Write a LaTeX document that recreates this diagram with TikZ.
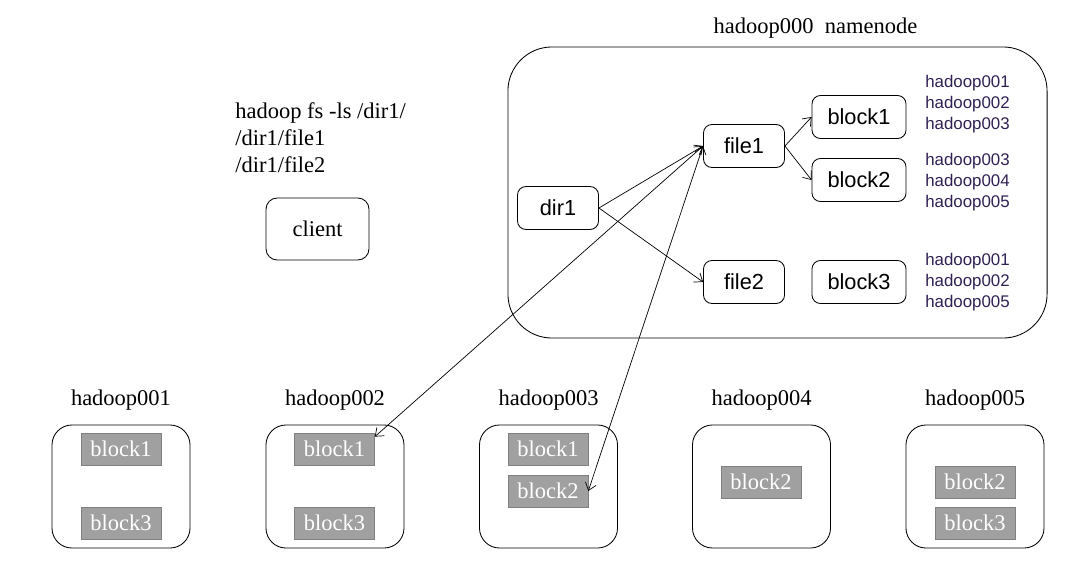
\documentclass[tikz,border=0pt]{standalone}
\usepackage{fontspec}
\setmainfont{Liberation Serif}
\setsansfont{Liberation Sans}
\usetikzlibrary{positioning, arrows.meta}
\definecolor{listpurple}{RGB}{48,32,84}
\definecolor{blkfill}{RGB}{160,160,160}
\definecolor{blkline}{RGB}{128,128,128}

\begin{document}
\begin{tikzpicture}[x=0.025cm, y=-0.025cm,
    meta/.style={draw, rectangle, rounded corners=6pt, font=\sffamily\fontsize{15.5}{18}\selectfont, minimum width=2.025cm, minimum height=1.075cm, line width=0.6pt},
    metablk/.style={meta, minimum width=2.35cm},
    host/.style={draw, rectangle, rounded corners=0.5cm, minimum width=3.45cm, minimum height=3.075cm, line width=0.6pt},
    blk/.style={draw=blkline, fill=blkfill, text=white, rectangle, font=\fontsize{16}{18}\selectfont, minimum width=2cm, minimum height=0.8cm, inner sep=0pt},
    hostname/.style={font=\fontsize{16}{18}\selectfont, inner sep=0pt},
    hostlist/.style={align=left, anchor=north west, inner sep=0pt, text=listpurple, font=\sffamily\fontsize{12}{14.9}\selectfont},
    arrow/.style={->, >={Straight Barb[length=1.8mm, width=2.8mm]}, line width=0.5pt}
]
\useasboundingbox (0,0) rectangle (1090,578);

% namenode
\node[draw, rectangle, rounded corners=1.1cm, minimum width=13.475cm, minimum height=7.275cm, line width=0.6pt] (namenode) at (777.5,192.5) {};
\node[hostname, above=0.2cm of namenode, xshift=0.95cm] (nntitle) {hadoop000\ \ namenode};

\node[meta] (dir1) at (558,208) {dir1};
\node[meta] (file1) at (744,146) {file1};
\node[meta] (file2) at (744,282) {file2};
\node[metablk] (block1) at (859,117) {block1};
\node[metablk] (block2) at (859,180) {block2};
\node[metablk] (block3) at (859,282) {block3};

\node[hostlist] (list1) at (925,75) {hadoop001\\hadoop002\\hadoop003};
\node[hostlist] (list2) at (925,153) {hadoop003\\hadoop004\\hadoop005};
\node[hostlist] (list3) at (925,253) {hadoop001\\hadoop002\\hadoop005};

\draw[arrow] (dir1.east) -- (file1.west);
\draw[arrow] (dir1.east) -- (file2.west);
\draw[arrow] (file1.east) -- (block1.west);
\draw[arrow] (file1.east) -- (block2.west);

% client
\node[align=left, anchor=north west, inner sep=0pt, font=\fontsize{16}{19.5}\selectfont] (cmd) at (235,102) {hadoop fs -ls /dir1/\\/dir1/file1\\/dir1/file2};
\node[draw, rectangle, rounded corners=8pt, minimum width=2.575cm, minimum height=1.55cm, line width=0.6pt, font=\fontsize{16}{18}\selectfont] (client) at (317.5,229) {client};

% datanodes
\node[host] (dn1) at (121,486.5) {};
\node[host] (dn2) at (335,486.5) {};
\node[host] (dn3) at (548.5,486.5) {};
\node[host] (dn4) at (761.5,486.5) {};
\node[host] (dn5) at (975,486.5) {};

\node[hostname, above=0.35cm of dn1] (dn1name) {hadoop001};
\node[hostname, above=0.35cm of dn2] (dn2name) {hadoop002};
\node[hostname, above=0.35cm of dn3] (dn3name) {hadoop003};
\node[hostname, above=0.35cm of dn4] (dn4name) {hadoop004};
\node[hostname, above=0.35cm of dn5] (dn5name) {hadoop005};

\node[blk] (d1b1) at (121,449) {block1};
\node[blk] (d1b3) at (121,523) {block3};
\node[blk] (d2b1) at (334.5,449) {block1};
\node[blk] (d2b3) at (334.5,523) {block3};
\node[blk] (d3b1) at (548,449) {block1};
\node[blk] (d3b2) at (548,491) {block2};
\node[blk] (d4b2) at (761,482) {block2};
\node[blk] (d5b2) at (975,482) {block2};
\node[blk] (d5b3) at (975,523) {block3};

\draw[arrow, <->] (file1.west) -- (d2b1.17);
\draw[arrow, <->] (file1.west) -- (d3b2.east);

\end{tikzpicture}
\end{document}
